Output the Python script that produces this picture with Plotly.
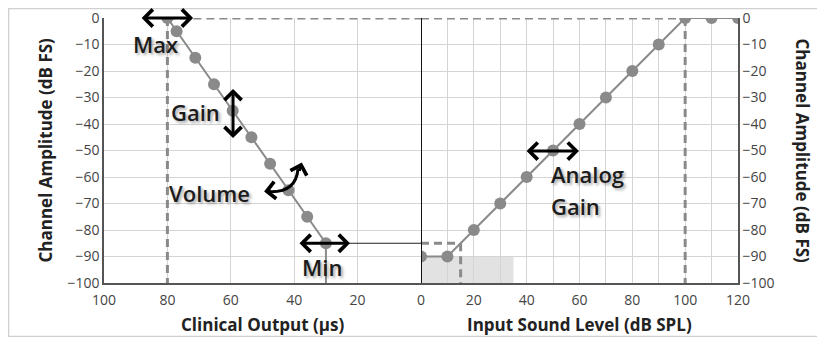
import plotly.graph_objects as go

# ---- data ----
left_x = [80, 77.1, 71.2, 65.3, 59.4, 53.5, 47.6, 41.8, 35.9, 30]
left_y = [0, -5, -15, -25, -35, -45, -55, -65, -75, -85]
right_x = [0, 10, 20, 30, 40, 50, 60, 70, 80, 90, 100, 110, 120]
right_y = [-90, -90, -80, -70, -60, -50, -40, -30, -20, -10, 0, 0, 0]
left_ticks = [100, 80, 60, 40, 20]
right_ticks = [0, 20, 40, 60, 80, 100, 120]
y_ticks = [0, -10, -20, -30, -40, -50, -60, -70, -80, -90, -100]
max_x, min_x, min_y = 80, 30, -85
sat_x = 100
thr_x, thr_y = 15, -85
noise_x = [0, 35]
noise_y = [-100, -90]

GRAY = "#8a8a8a"
GRID = "#d4d4d4"
FONT = "Open Sans"
TXT = "#1c1c1c"
SHADOW = "2px 2px 3px rgba(0,0,0,0.35)"

fig = go.Figure()

fig.add_trace(go.Scatter(x=left_x, y=left_y, mode="lines+markers", xaxis="x", yaxis="y",
                         line=dict(color=GRAY, width=2),
                         marker=dict(size=12, color=GRAY), showlegend=False, hoverinfo="skip"))
fig.add_trace(go.Scatter(x=right_x, y=right_y, mode="lines+markers", xaxis="x2", yaxis="y2",
                         line=dict(color=GRAY, width=2),
                         marker=dict(size=12, color=GRAY), showlegend=False, hoverinfo="skip"))

axis_font = dict(family=FONT, size=14, color="#444")
common = dict(showgrid=True, gridcolor=GRID, gridwidth=1, zeroline=False, showline=True,
              linecolor="#555", linewidth=1.5, tickfont=axis_font, ticks="", automargin=False,
              ticklabeloverflow="allow")
fig.update_layout(
    width=809, height=329,
    margin=dict(l=96, r=79, t=10, b=54),
    paper_bgcolor="white", plot_bgcolor="white",
    xaxis=dict(domain=[0, 0.5], range=[100, 0], tickvals=left_ticks, ticklabelstandoff=3,
               anchor="y", **common),
    xaxis2=dict(domain=[0.5, 1], range=[0, 120], tickvals=right_ticks, ticklabelstandoff=3,
                anchor="y2", minor=dict(dtick=10, showgrid=True, gridcolor=GRID, gridwidth=1, tick0=0),
                **common),
    yaxis=dict(range=[-100, 0], tickvals=y_ticks, anchor="x", **common),
    yaxis2=dict(range=[-100, 0], tickvals=y_ticks, anchor="x2", side="right", **common),
)

shapes = []
shapes.append(dict(type="rect", xref="x2", yref="y2", x0=noise_x[0], x1=noise_x[1],
                   y0=noise_y[0], y1=noise_y[1], fillcolor="#e2e2e2", line=dict(width=0), layer="below"))
dash = dict(color=GRAY, width=3, dash="8px,5px")
shapes.append(dict(type="line", xref="x", yref="y", x0=max_x, x1=0, y0=0, y1=0, line=dash))
shapes.append(dict(type="line", xref="x2", yref="y2", x0=0, x1=sat_x, y0=0, y1=0, line=dash))
shapes.append(dict(type="line", xref="x", yref="y", x0=max_x, x1=max_x, y0=0, y1=-100, line=dash))
shapes.append(dict(type="line", xref="x2", yref="y2", x0=sat_x, x1=sat_x, y0=0, y1=-100, line=dash))
shapes.append(dict(type="line", xref="x2", yref="y2", x0=0, x1=thr_x, y0=thr_y, y1=thr_y, line=dash))
shapes.append(dict(type="line", xref="x2", yref="y2", x0=thr_x, x1=thr_x, y0=thr_y, y1=-100, line=dash))
shapes.append(dict(type="line", xref="x", yref="y", x0=min_x, x1=min_x, y0=min_y, y1=-100,
                   line=dict(color=GRAY, width=2)))
shapes.append(dict(type="line", xref="x", yref="y", x0=min_x, x1=0, y0=min_y, y1=min_y,
                   line=dict(color="#222", width=1)))
shapes.append(dict(type="line", xref="x2", yref="y2", x0=0, x1=0, y0=0, y1=-100,
                   line=dict(color="#111", width=2)))
shapes.append(dict(type="path", xref="x", yref="y",
                   path="M 38.8,-57 Q 39.5,-66 48,-65.5",
                   line=dict(color="black", width=3)))
# faint frame (left, top, bottom)
shapes.append(dict(type="path", xref="paper", yref="paper",
                   path="M 1.2,1.036 L -0.1506,1.036 L -0.1506,-0.2019 L 1.2,-0.2019",
                   line=dict(color="#d0d0d0", width=1.5)))
fig.update_layout(shapes=shapes)

ann = []
lab = dict(family=FONT, size=22, color=TXT, weight=600, shadow=SHADOW)


def txt(x, y, s, xref="x", yref="y", xanchor="center"):
    ann.append(dict(x=x, y=y, xref=xref, yref=yref, text=s, showarrow=False, font=lab,
                    xanchor=xanchor, yanchor="middle"))


def darrow(x0, y0, x1, y1, xref="x", yref="y"):
    ann.append(dict(x=x1, y=y1, ax=x0, ay=y0, xref=xref, yref=yref, axref=xref, ayref=yref,
                    text="", showarrow=True, arrowhead=4, startarrowhead=4, arrowside="end+start",
                    arrowsize=1.1, startarrowsize=1.1, arrowwidth=3, arrowcolor="black"))


def sarrow(x, y, dx, dy, xref="x", yref="y"):
    ann.append(dict(x=x, y=y, ax=dx, ay=dy, xref=xref, yref=yref,
                    text="", showarrow=True, arrowhead=4, arrowsize=1.1, arrowwidth=3,
                    arrowcolor="black", standoff=0))


txt(83.9, -9.8, "Max")
txt(71, -35.6, "Gain")
txt(66.6, -66, "Volume")
txt(31.2, -94, "Min")
txt(48.5, -58.8, "Analog", xref="x2", yref="y2", xanchor="left")
txt(48.5, -70.8, "Gain", xref="x2", yref="y2", xanchor="left")

darrow(88.6, 0, 71.9, 0)
darrow(59.3, -26.2, 59.3, -45.3)
darrow(38.8, min_y, 22.4, min_y)
darrow(39.4, -50.2, 59.8, -50.2, xref="x2", yref="y2")
sarrow(37.6, -54.5, -3, 10)
sarrow(49.5, -65.5, 8, -1)

title_font = dict(family=FONT, size=17, color="#222", weight="bold")
ann.append(dict(x=0.25, y=-0.158, xref="paper", yref="paper", text="Clinical Output (µs)",
                showarrow=False, font=title_font, xanchor="center", yanchor="middle"))
ann.append(dict(x=0.75, y=-0.158, xref="paper", yref="paper", text="Input Sound Level (dB SPL)",
                showarrow=False, font=title_font, xanchor="center", yanchor="middle"))
ann.append(dict(x=-0.093, y=0.5, xref="paper", yref="paper", text="Channel Amplitude (dB FS)",
                showarrow=False, font=title_font, textangle=-90, xanchor="center", yanchor="middle"))
ann.append(dict(x=1.101, y=0.5, xref="paper", yref="paper", text="Channel Amplitude (dB FS)",
                showarrow=False, font=title_font, textangle=90, xanchor="center", yanchor="middle"))
fig.update_layout(annotations=ann)

fig.write_html("out.html")
